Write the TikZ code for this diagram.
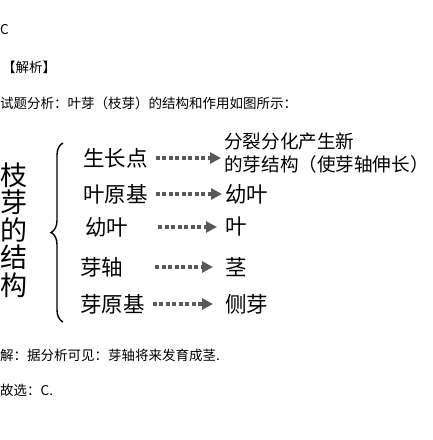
\documentclass[tikz,border=0pt]{standalone}
\usepackage{fontspec}
\setmainfont{Noto Sans CJK SC}
\usetikzlibrary{decorations.pathreplacing, positioning, arrows.meta}

\begin{document}
\begin{tikzpicture}
          [x=1pt, y=-1pt,
           txt/.style={anchor=west, inner sep=0pt, font=\fontsize{13.5}{16}\selectfont},
           part/.style={anchor=west, inner sep=0pt, font=\fontsize{21.5}{24}\selectfont},
           fate/.style={anchor=west, inner sep=0pt, align=left, font=\fontsize{18.6}{23}\selectfont},
           dotarrow/.style={-{Triangle[length=11pt, width=11pt]}, line width=3.5pt,
                            dash pattern=on 4pt off 2.5pt, gray!70!black}]
            \useasboundingbox (0,0) rectangle (432,440);
            \node[txt] (answer) at (0,30) {C};
            \node[txt] (jiexi) at (2,67) {【解析】};
            \node[txt] (fenxi) at (0,103) {试题分析：叶芽（枝芽）的结构和作用如图所示：};

            \node (zhiya) [inner sep=0pt, align=center, font=\fontsize{27}{27.5}\selectfont]
              at (14,230) {枝\\芽\\的\\结\\构};
            \draw [line width=1.4pt, decoration={brace, amplitude=12pt}, decorate]
              (63,322) -- (63,143);

            \node[part] (p1) at (83,158) {生长点};
            \node[part] (p2) at (83,194) {叶原基};
            \node[part] (p3) at (85,227) {幼叶};
            \node[part] (p4) at (80,267) {芽轴};
            \node[part] (p5) at (80,304) {芽原基};

            \node[fate] (f1) at (224,153.5) {分裂分化产生新\\的芽结构（使芽轴伸长）};
            \node[part] (f2) at (225,194) {幼叶};
            \node[part] (f3) at (225,227) {叶};
            \node[part] (f4) at (225,267) {茎};
            \node[part] (f5) at (225,304) {侧芽};

            \draw[dotarrow] ([xshift=8pt]p1.east) -- ([xshift=-3pt]f1.west |- p1.east);
            \draw[dotarrow] ([xshift=8pt]p2.east) -- ([xshift=-3pt]f2.west);
            \draw[dotarrow] ([xshift=30pt]p3.east) -- ([xshift=-8pt]f3.west);
            \draw[dotarrow] ([xshift=32pt]p4.east) -- ([xshift=-12pt]f4.west);
            \draw[dotarrow] ([xshift=8pt]p5.east) -- ([xshift=-12pt]f5.west);

            \node[txt] (jie) at (0,355) {解：据分析可见：芽轴将来发育成茎.};
            \node[txt] (guxuan) at (0,390) {故选：C.};
        \end{tikzpicture}
\end{document}
